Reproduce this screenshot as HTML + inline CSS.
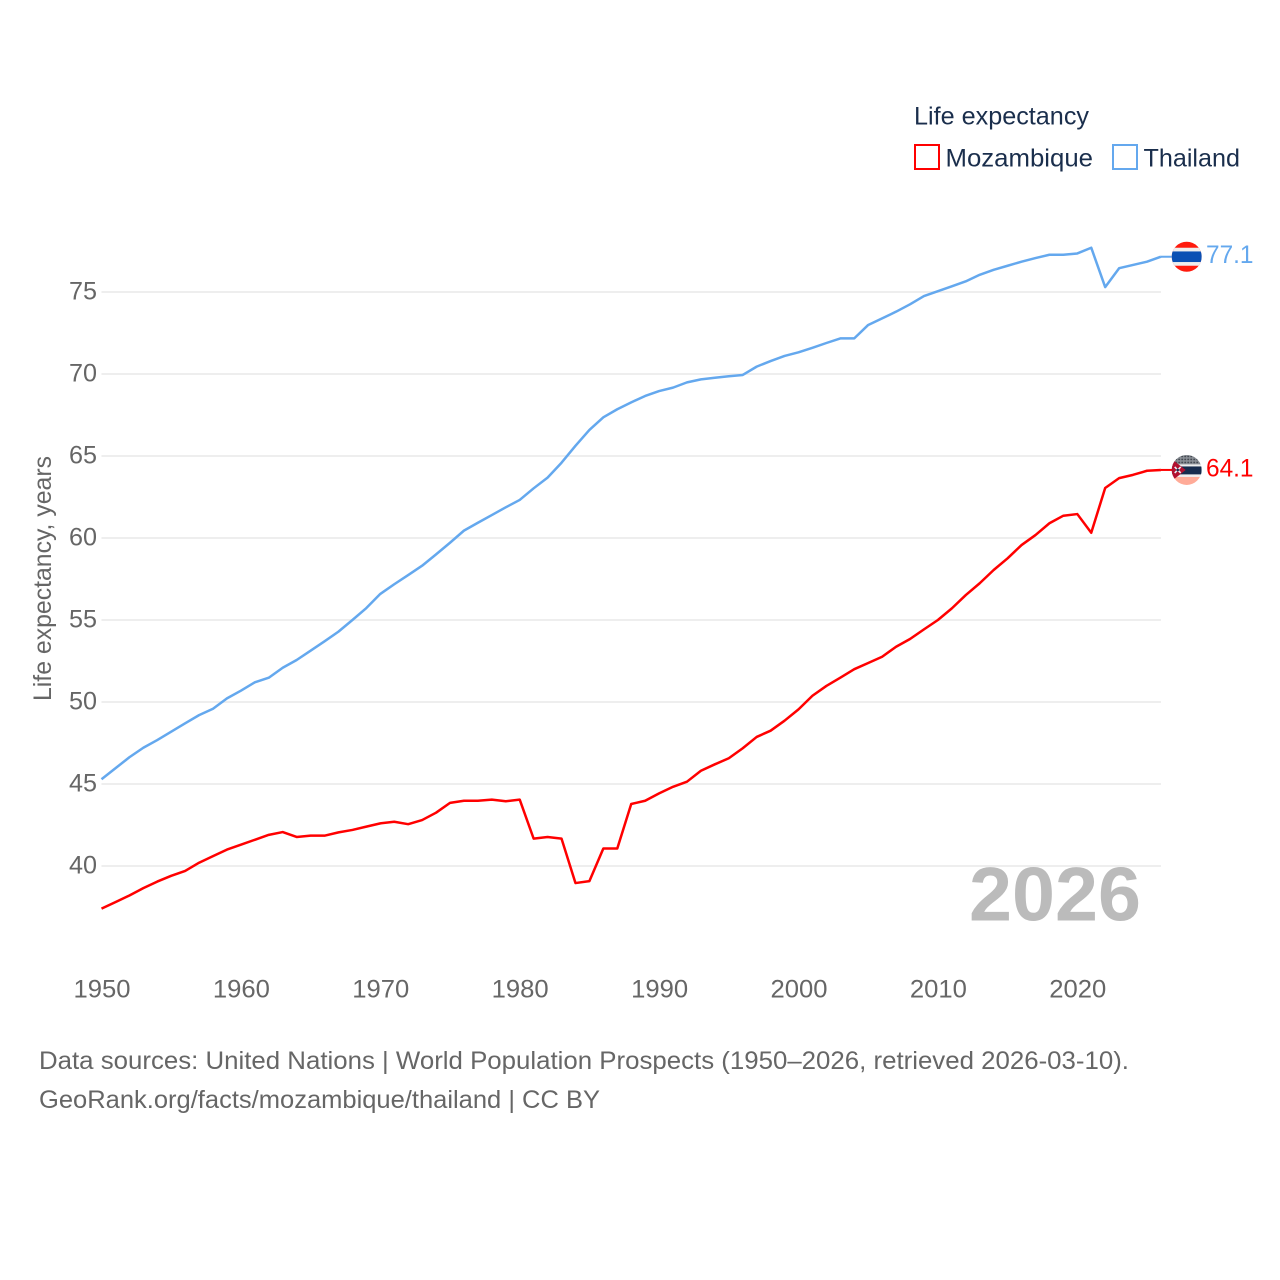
<!DOCTYPE html>
<html lang="en">
<head>
<meta charset="utf-8">
<title>Life expectancy: Mozambique and Thailand</title>
<style>
html,body{margin:0;padding:0;background:#fff}
svg{display:block}
text{font-family:"Liberation Sans",sans-serif}
</style>
</head>
<body>
<svg id="chart" xmlns="http://www.w3.org/2000/svg" width="1280" height="1280" viewBox="0 0 1280 1280">
  <defs>
    <clipPath id="flag-clip-thailand"><circle cx="0" cy="0" r="15"/></clipPath>
    <clipPath id="flag-clip-mozambique"><circle cx="0" cy="0" r="15"/></clipPath>
    <pattern id="flag-dots" width="3" height="3" patternUnits="userSpaceOnUse">
      <rect width="3" height="3" fill="#8a8f96"/>
      <circle cx="1.5" cy="1.5" r="0.9" fill="#3a3f47"/>
    </pattern>
  </defs>

  <rect x="0" y="0" width="1280" height="1280" fill="#ffffff"/>

  <g id="grid"></g>
  <g id="y-ticks"></g>
  <g id="x-ticks"></g>

  <text transform="translate(51,701) rotate(-90)" font-size="25" fill="#666666" textLength="245" lengthAdjust="spacingAndGlyphs">Life expectancy, years</text>

  <text x="969" y="920.500" font-size="76" font-weight="700" fill="#bbbbbb" textLength="172" lengthAdjust="spacingAndGlyphs">2026</text>

  <g id="series"></g>
  <g id="ends"></g>

  <g>
    <text x="914" y="124.500" font-size="25" fill="#1a2e4c" textLength="175" lengthAdjust="spacingAndGlyphs">Life expectancy</text>
    <rect x="915" y="145" width="24" height="24" fill="#ffffff" stroke="#ff0000" stroke-width="2"/>
    <text x="945.500" y="166.500" font-size="25" fill="#1a2e4c" textLength="147.500" lengthAdjust="spacingAndGlyphs">Mozambique</text>
    <rect x="1113" y="145" width="24" height="24" fill="#ffffff" stroke="#64a8ee" stroke-width="2"/>
    <text x="1143.500" y="166.500" font-size="25" fill="#1a2e4c" textLength="96.500" lengthAdjust="spacingAndGlyphs">Thailand</text>
  </g>

  <g>
    <text x="39" y="1069" font-size="25" fill="#666666" textLength="1090" lengthAdjust="spacingAndGlyphs">Data sources: United Nations | World Population Prospects (1950–2026, retrieved 2026-03-10).</text>
    <text x="39" y="1108" font-size="25" fill="#666666" textLength="561" lengthAdjust="spacingAndGlyphs">GeoRank.org/facts/mozambique/thailand | CC BY</text>
  </g>
</svg>

<script>
const startYear = 1950;
const xTickYears = [1950, 1960, 1970, 1980, 1990, 2000, 2010, 2020];
const yTickValues = [40, 45, 50, 55, 60, 65, 70, 75];
const endLabels = ['64.1', '77.1'];

const mozambiqueValues = [
  37.4, 37.8, 38.2, 38.65, 39.05, 39.4, 39.7, 40.2, 40.6, 41,
  41.3, 41.6, 41.9, 42.07, 41.77, 41.85, 41.85, 42.05, 42.2, 42.4,
  42.6, 42.7, 42.55, 42.8, 43.25, 43.85, 43.98, 43.98, 44.05, 43.95,
  44.05, 41.67, 41.77, 41.67, 38.96, 39.08, 41.07, 41.07, 43.78, 43.98,
  44.43, 44.83, 45.14, 45.81, 46.2, 46.57, 47.18, 47.87, 48.25, 48.86,
  49.55, 50.38, 50.98, 51.48, 52, 52.38, 52.76, 53.37, 53.84, 54.43,
  55, 55.71, 56.52, 57.24, 58.05, 58.76, 59.57, 60.18, 60.9, 61.36,
  61.46, 60.32, 63.05, 63.65, 63.85, 64.1, 64.15
];

const thailandValues = [
  45.29, 45.96, 46.63, 47.21, 47.68, 48.19, 48.7, 49.2, 49.59, 50.22,
  50.69, 51.2, 51.48, 52.09, 52.56, 53.13, 53.7, 54.29, 55, 55.73,
  56.59, 57.18, 57.74, 58.31, 59, 59.71, 60.45, 60.93, 61.4, 61.87,
  62.32, 63.03, 63.68, 64.59, 65.62, 66.59, 67.36, 67.85, 68.27, 68.66,
  68.96, 69.17, 69.49, 69.67, 69.77, 69.86, 69.94, 70.45, 70.79, 71.1,
  71.32, 71.6, 71.89, 72.17, 72.17, 72.99, 73.39, 73.8, 74.25, 74.75,
  75.05, 75.35, 75.65, 76.05, 76.35, 76.6, 76.85, 77.07, 77.27, 77.27,
  77.35, 77.7, 75.3, 76.45, 76.65, 76.85, 77.15
];

const SVG_NS = 'http://www.w3.org/2000/svg';

function xScale(year) {
  return 101.5 + (year - 1950) * 13.94;
}

function yScale(value) {
  return 866 - (value - 40) * 16.4;
}

function make(tag, attrs, parent) {
  const el = document.createElementNS(SVG_NS, tag);
  Object.keys(attrs).forEach(function (key) {
    el.setAttribute(key, attrs[key]);
  });
  parent.appendChild(el);
  return el;
}

const lastYear = startYear + mozambiqueValues.length - 1;
const gridGroup = document.getElementById('grid');
const yTickGroup = document.getElementById('y-ticks');
const xTickGroup = document.getElementById('x-ticks');
const seriesGroup = document.getElementById('series');
const endGroup = document.getElementById('ends');

yTickValues.forEach(function (value) {
  const line = make('line', {
    x1: xScale(startYear),
    x2: xScale(lastYear),
    y1: yScale(value),
    y2: yScale(value),
    stroke: '#eeeeee',
    'stroke-width': 2
  }, gridGroup);
  
  

  const label = make('text', {
    x: 97,
    y: yScale(value) + 7.5,
    'text-anchor': 'end',
    'font-size': 25,
    fill: '#666666',
    textLength: 28,
    lengthAdjust: 'spacingAndGlyphs'
  }, yTickGroup);
  label.textContent = String(value);
  
  
});

xTickYears.forEach(function (year) {
  const label = make('text', {
    x: xScale(year) + 0.5,
    y: 997.5,
    'text-anchor': 'middle',
    'font-size': 25,
    fill: '#666666',
    textLength: 57,
    lengthAdjust: 'spacingAndGlyphs'
  }, xTickGroup);
  label.textContent = String(year);
  
  
});

function drawSeries(values, color, name) {
  const points = values.map(function (value, i) {
    return xScale(startYear + i).toFixed(2) + ',' + yScale(value).toFixed(2);
  }).join(' ');
  const line = make('polyline', {
    points: points,
    fill: 'none',
    stroke: color,
    'stroke-width': 2.5,
    'stroke-linejoin': 'round'
  }, seriesGroup);
  
  
}

function drawEnd(values, color, name, labelText, drawFlag) {
  const yEnd = yScale(values[values.length - 1]);
  const xEnd = xScale(lastYear);

  const connector = make('line', {
    x1: xEnd,
    x2: xEnd + 12,
    y1: yEnd,
    y2: yEnd,
    stroke: color,
    'stroke-width': 2
  }, endGroup);
  
  

  const flag = make('g', {
    transform: 'translate(1186.7,' + yEnd + ')',
    'clip-path': 'url(#flag-clip-' + name + ')'
  }, endGroup);
  
  
  drawFlag(flag);

  const label = make('text', {
    x: 1206,
    y: yEnd + 6.5,
    'font-size': 25,
    fill: color,
    textLength: 47.5,
    lengthAdjust: 'spacingAndGlyphs'
  }, endGroup);
  label.textContent = labelText;
  
  
}

function drawThaiFlag(group) {
  make('rect', { x: -15, y: -16, width: 30, height: 32, fill: '#ff1a0d' }, group);
  make('rect', { x: -15, y: -9, width: 30, height: 18, fill: '#eeeeee' }, group);
  make('rect', { x: -15, y: -5.3, width: 30, height: 10.6, fill: '#0a50b4' }, group);
}

function drawMozambiqueFlag(group) {
  make('rect', { x: -15, y: -16, width: 30, height: 10.5, fill: 'url(#flag-dots)' }, group);
  make('rect', { x: -15, y: -5.5, width: 30, height: 2, fill: '#eeeeee' }, group);
  make('rect', { x: -15, y: -3.5, width: 30, height: 8, fill: '#162c4e' }, group);
  make('rect', { x: -15, y: 4.5, width: 30, height: 2.5, fill: '#eeeeee' }, group);
  make('rect', { x: -15, y: 7, width: 30, height: 9, fill: '#ffab98' }, group);
  make('polygon', { points: '-15,-11 -1,0 -15,11', fill: '#b2102f' }, group);
  make('path', { d: 'M-12,-3 L-6,3 M-6,-3 L-12,3', stroke: '#e8eef5', 'stroke-width': 1.6, fill: 'none' }, group);
  make('circle', { cx: -9, cy: 0, r: 1.3, fill: '#162c4e' }, group);
}

drawSeries(thailandValues, '#64a8ee', 'thailand');
drawSeries(mozambiqueValues, '#ff0000', 'mozambique');
drawEnd(mozambiqueValues, '#ff0000', 'mozambique', endLabels[0], drawMozambiqueFlag);
drawEnd(thailandValues, '#64a8ee', 'thailand', endLabels[1], drawThaiFlag);
</script>
</body>
</html>
